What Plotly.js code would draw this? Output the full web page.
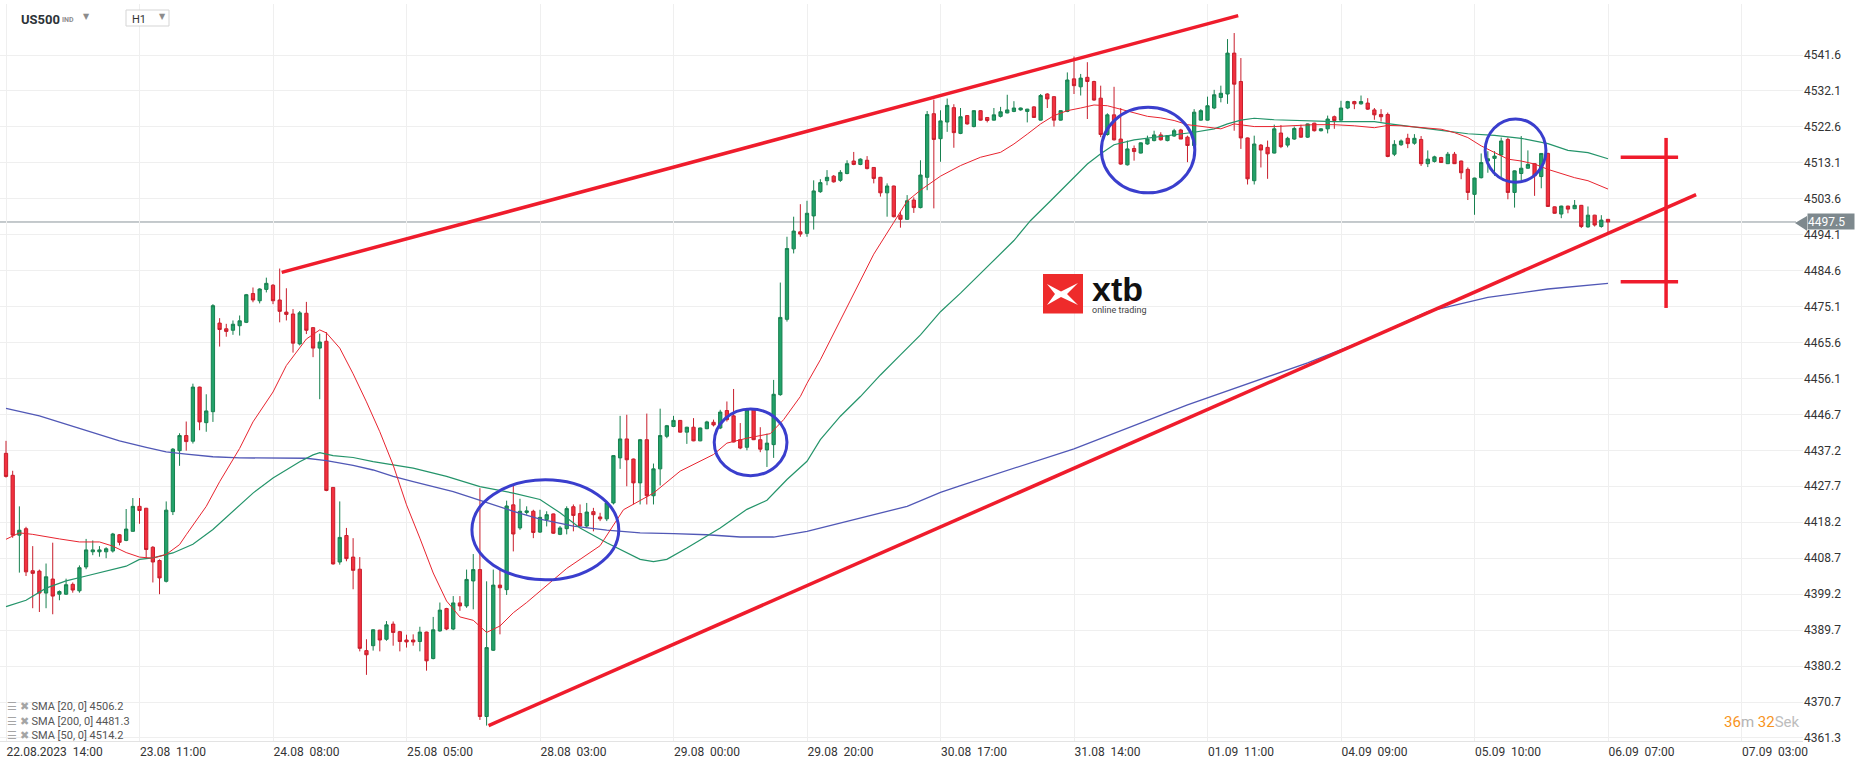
<!DOCTYPE html>
<html><head><meta charset="utf-8">
<script src="https://cdn.plot.ly/plotly-3.0.1.min.js"></script>
<style>html,body{margin:0;padding:0;background:#fff;overflow:hidden}#chart{width:1866px;height:767px}</style>
</head><body><div id="chart"></div>
<script>
// ---------- DATA ----------
const openP = [4436.4,4430.6,4414.8,4416.5,4405.4,4405.3,4399.5,4403.2,4399.2,4399.2,4401.8,4400.1,4406.4,4410.4,4410.4,4410.4,4410.6,4414.9,4413.4,4415.8,
4422.4,4421.9,4411.6,4408.1,4402.6,4421.0,4437.1,4441.1,4439.6,4453.9,4444.5,4447.4,4470.8,4469.3,4468.9,4470.1,4471.0,4478.6,4476.7,4479.7,
4480.8,4476.9,4473.7,4473.2,4465.3,4473.4,4469.6,4464.2,4466.0,4427.4,4407.7,4414.7,4409.0,4405.8,4384.3,4385.6,4389.7,4387.3,4391.3,4389.3,
4387.1,4387.1,4386.7,4389.2,4382.2,4389.5,4395.4,4390.0,4396.9,4396.1,4402.7,4405.7,4366.9,4384.4,4401.6,4400.4,4422.8,4416.7,4420.8,4421.1,
4415.6,4418.9,4420.4,4415.0,4416.5,4422.3,4420.5,4417.2,4421.0,4419.6,4419.1,4423.3,4435.2,4440.2,4434.9,4428.6,4440.0,4425.2,4432.3,4440.9,
4443.5,4445.1,4442.0,4443.3,4439.7,4442.9,4444.6,4443.1,4447.7,4446.3,4440.0,4438.0,4447.9,4440.0,4437.3,4438.7,4451.9,4471.8,4490.4,4494.9,
4494.5,4499.1,4505.5,4508.4,4509.6,4508.5,4510.3,4513.6,4512.7,4513.8,4511.9,4509.3,4505.2,4507.0,4499.3,4498.2,4503.3,4501.3,4509.3,4526.1,
4519.5,4523.9,4527.7,4520.9,4525.6,4522.7,4526.9,4525.1,4524.4,4525.4,4526.3,4526.7,4527.1,4526.7,4527.9,4524.4,4531.3,4530.6,4524.4,4526.7,
4535.3,4533.2,4535.7,4534.6,4530.2,4520.6,4525.8,4519.4,4512.6,4516.9,4515.7,4518.1,4519.0,4520.5,4519.0,4520.2,4521.8,4519.9,4517.7,4524.4,
4524.4,4527.6,4530.4,4531.3,4542.1,4534.6,4519.7,4508.4,4517.8,4517.2,4515.7,4521.0,4517.8,4519.4,4522.3,4519.9,4523.6,4521.6,4522.1,4525.3,
4524.4,4527.6,4529.3,4528.7,4528.9,4527.1,4525.9,4525.9,4515.4,4517.9,4519.6,4518.3,4519.3,4512.9,4513.5,4514.5,4512.9,4515.4,4513.6,4511.4,
4504.8,4509.2,4513.6,4514.3,4515.2,4519.3,4505.3,4510.3,4511.7,4512.9,4509.5,4515.6,4501.5,4499.6,4501.7,4501.0,4501.9,4496.2,4499.3,4496.3,
4498.2];
const highP = [4439.7,4431.8,4422.4,4417.0,4411.9,4405.7,4407.3,4412.8,4400.2,4403.3,4402.3,4406.8,4413.8,4413.4,4411.9,4411.6,4415.4,4415.1,4421.7,4424.6,
4424.6,4422.0,4411.9,4408.4,4423.7,4437.8,4441.7,4444.8,4454.8,4454.0,4452.0,4475.8,4472.1,4470.6,4471.5,4472.8,4478.5,4480.2,4480.0,4482.8,
4481.1,4485.2,4480.0,4474.5,4474.0,4476.4,4469.7,4468.0,4468.4,4427.5,4423.7,4416.7,4414.0,4409.0,4387.3,4389.9,4389.8,4392.1,4392.0,4389.5,
4388.5,4388.6,4390.6,4389.3,4393.2,4397.0,4395.6,4398.7,4398.7,4405.7,4409.8,4427.2,4402.6,4405.7,4405.7,4423.9,4427.9,4424.4,4422.4,4421.5,
4421.5,4421.1,4420.5,4417.2,4422.4,4422.9,4422.9,4423.3,4422.0,4420.7,4423.8,4435.9,4446.3,4446.6,4435.0,4440.2,4446.9,4433.7,4448.2,4443.9,
4446.3,4445.2,4443.4,4445.7,4443.2,4445.0,4445.3,4447.9,4450.1,4453.4,4444.4,4448.4,4448.1,4443.3,4441.6,4455.8,4481.5,4493.6,4498.9,4502.2,
4503.1,4508.5,4508.8,4511.2,4509.9,4511.2,4513.8,4516.0,4514.3,4514.9,4512.0,4509.4,4507.7,4507.1,4500.2,4504.6,4504.0,4513.8,4526.8,4529.8,
4527.0,4530.1,4528.6,4527.6,4525.7,4527.0,4527.0,4525.2,4527.6,4527.9,4531.1,4529.4,4527.7,4527.4,4528.1,4531.3,4531.5,4530.7,4527.0,4537.0,
4541.2,4536.6,4539.7,4534.8,4533.5,4526.2,4533.2,4527.6,4519.0,4517.7,4518.5,4520.3,4521.6,4521.2,4520.4,4522.1,4522.1,4520.3,4527.3,4527.3,
4530.6,4532.4,4533.5,4545.8,4547.4,4540.8,4519.8,4520.3,4518.1,4519.0,4523.2,4523.1,4520.0,4522.7,4523.2,4523.5,4523.7,4522.3,4525.6,4525.6,
4529.5,4529.5,4529.5,4530.9,4530.2,4527.6,4527.3,4526.4,4519.1,4519.3,4520.8,4520.7,4520.2,4516.4,4515.0,4514.7,4516.0,4516.0,4513.7,4511.9,
4509.2,4515.6,4516.2,4516.2,4519.8,4519.8,4511.1,4520.2,4516.4,4513.0,4515.7,4515.8,4501.6,4501.8,4501.8,4503.3,4502.0,4501.6,4499.4,4499.3,
4498.3];
const lowP = [4430.0,4414.1,4404.9,4404.0,4395.5,4394.5,4395.5,4393.9,4397.6,4399.0,4399.6,4399.6,4405.8,4409.5,4409.1,4408.7,4410.2,4412.1,4413.2,4415.8,
4417.8,4408.8,4402.3,4399.2,4402.3,4420.1,4433.1,4437.1,4439.0,4442.5,4442.1,4444.7,4464.6,4467.2,4467.7,4467.5,4470.8,4476.3,4476.0,4478.9,
4475.8,4471.0,4471.5,4463.0,4464.9,4467.9,4461.8,4450.7,4426.4,4407.0,4407.0,4407.9,4400.5,4384.1,4377.9,4384.3,4384.1,4386.9,4385.6,4384.1,
4385.1,4385.6,4384.1,4379.0,4382.0,4389.3,4389.7,4389.7,4394.8,4395.6,4395.2,4366.0,4364.5,4384.2,4388.6,4399.0,4410.5,4416.2,4420.2,4414.0,
4415.4,4417.1,4415.1,4414.8,4415.0,4415.8,4417.0,4416.7,4415.8,4418.5,4418.5,4422.9,4432.3,4427.7,4422.9,4422.9,4422.9,4422.9,4427.9,4440.4,
4443.3,4441.9,4438.9,4439.6,4439.6,4442.8,4443.5,4442.8,4444.8,4439.3,4437.5,4437.2,4439.9,4436.7,4432.8,4435.2,4451.6,4471.2,4489.2,4493.6,
4493.6,4495.5,4505.2,4507.2,4507.9,4508.1,4510.1,4512.5,4512.5,4511.4,4507.7,4504.2,4498.9,4498.7,4496.0,4498.1,4499.9,4501.1,4505.9,4501.1,
4513.4,4521.3,4517.1,4520.7,4523.2,4522.5,4524.3,4523.8,4524.3,4525.1,4526.2,4526.5,4526.9,4523.8,4525.0,4524.3,4527.6,4522.7,4524.3,4526.5,
4531.3,4530.9,4524.7,4529.5,4519.9,4520.3,4519.0,4512.6,4512.4,4513.7,4515.6,4517.9,4518.8,4519.0,4518.8,4520.0,4519.4,4513.3,4517.4,4524.3,
4524.3,4527.3,4529.1,4528.7,4521.6,4516.8,4507.4,4507.4,4511.9,4508.9,4515.6,4517.0,4517.2,4519.2,4519.7,4519.7,4521.4,4521.4,4520.9,4522.1,
4524.3,4527.3,4527.3,4528.5,4527.1,4524.5,4524.0,4514.6,4514.9,4517.6,4517.0,4517.9,4512.3,4512.0,4513.2,4513.2,4512.8,4512.8,4508.8,4503.3,
4499.4,4509.0,4510.5,4509.7,4509.2,4503.5,4501.3,4508.4,4511.6,4504.4,4506.4,4501.5,4499.7,4498.5,4499.8,4500.9,4495.9,4496.0,4496.3,4496.0,
4494.7];
const closeP = [4430.3,4414.8,4416.1,4405.1,4404.7,4399.5,4403.8,4398.7,4399.9,4401.7,4400.3,4406.2,4410.9,4410.9,4410.9,4411.2,4415.1,4412.9,4416.4,4422.4,
4421.3,4411.0,4407.7,4403.5,4421.4,4437.5,4441.1,4439.5,4453.9,4444.7,4447.6,4475.4,4469.1,4468.6,4470.5,4471.4,4478.3,4476.9,4479.8,4481.3,
4476.7,4473.9,4473.1,4465.5,4473.5,4468.9,4464.2,4465.8,4426.6,4407.2,4414.2,4408.6,4405.5,4384.9,4383.2,4389.8,4387.1,4391.1,4389.1,4386.7,
4386.6,4386.6,4389.2,4381.6,4389.8,4395.0,4390.0,4396.9,4396.1,4403.1,4405.7,4366.9,4385.1,4401.6,4400.9,4422.5,4415.1,4421.1,4421.2,4415.5,
4419.5,4420.2,4415.3,4416.7,4421.8,4420.0,4417.2,4420.9,4420.2,4419.1,4423.3,4435.8,4440.2,4434.7,4428.6,4440.0,4425.2,4432.3,4441.1,4443.7,
4445.1,4442.0,4443.3,4439.7,4443.1,4444.7,4443.9,4447.3,4445.3,4439.4,4437.8,4447.9,4440.0,4437.5,4439.1,4452.0,4472.3,4490.5,4495.1,4494.3,
4499.8,4505.7,4507.9,4509.3,4508.1,4510.6,4512.9,4512.7,4514.1,4511.6,4509.0,4505.2,4507.0,4498.9,4498.2,4503.1,4501.3,4509.9,4525.9,4519.3,
4524.2,4528.3,4521.1,4525.3,4523.4,4526.9,4524.4,4524.3,4525.8,4526.6,4527.1,4527.6,4527.6,4527.3,4525.1,4530.9,4530.0,4524.4,4526.9,4535.0,
4533.5,4535.5,4534.6,4529.7,4520.6,4525.8,4519.2,4512.8,4516.8,4516.1,4518.4,4519.4,4520.5,4519.2,4520.3,4521.6,4519.4,4517.7,4526.5,4526.9,
4528.2,4531.1,4531.5,4542.1,4533.9,4519.7,4508.9,4518.1,4516.5,4515.5,4522.1,4517.4,4519.6,4522.2,4519.9,4523.4,4521.6,4522.1,4524.7,4524.3,
4527.6,4529.3,4528.7,4529.3,4527.3,4525.8,4525.3,4514.8,4518.0,4518.9,4518.2,4519.6,4512.9,4514.1,4514.7,4513.2,4515.4,4512.9,4510.5,4505.3,
4509.1,4513.2,4514.2,4514.9,4518.9,4505.3,4511.0,4511.7,4512.7,4509.7,4515.6,4501.6,4499.8,4501.7,4500.9,4501.9,4496.3,4499.3,4496.7,4498.0,
4497.5];

const xTickLabels = ["22.08.2023  14:00","23.08  11:00","24.08  08:00","25.08  05:00","28.08  03:00","29.08  00:00","29.08  20:00",
"30.08  17:00","31.08  14:00","01.09  11:00","04.09  09:00","05.09  10:00","06.09  07:00","07.09  03:00"];
const yTickValues = [4361.3,4370.7,4380.2,4389.7,4399.2,4408.7,4418.2,4427.7,4437.2,4446.7,4456.1,4465.6,4475.1,4484.6,4494.1,4503.6,4513.1,4522.6,4532.1,4541.6];

const sma20Bar = [0,2,4,6,8,11,14,16,18,20,22,24,26,27,30,32,35,37,40,42,45,47,48,50,52,54,56,58,60,62,64,66,68,70,72,74,76,78,80,82,84,86,89,92.5,97,101,106,108,111,114.5,116.5,119,120,122,124,126,128,130,133,135,137,140,143,146,149,151,153,155,157,159,161,163,165,167,169,171,173,175,177,179,182,184,187,190,193,196,199,202,205,207,209,211,213,215,217,219,221,223,225,227,229,231,233,235,237,240];
const sma20Val = [4413.7,4415.4,4415.0,4414.5,4413.8,4413.0,4413.0,4411.9,4410.2,4409.0,4408.7,4409.7,4412.3,4414.9,4422.4,4428.9,4437.7,4444.7,4452.6,4459.6,4466.6,4469.0,4468.2,4464.2,4457.4,4450.0,4442.1,4433.3,4422.8,4414.0,4404.8,4397.4,4393.2,4392.3,4389.1,4390.8,4394.3,4397.0,4400.0,4403.1,4406.0,4408.4,4412.0,4421.5,4425.9,4431.7,4436.1,4439.1,4440.4,4441.6,4445.3,4451.4,4454.9,4461.1,4468.1,4475.1,4482.2,4489.0,4497.4,4503.0,4505.9,4509.6,4512.4,4514.6,4515.9,4518.1,4520.7,4523.4,4525.6,4526.9,4527.6,4528.4,4528.2,4527.3,4526.5,4525.4,4525.0,4524.3,4523.2,4522.7,4522.1,4523.4,4522.7,4522.7,4522.9,4523.2,4523.2,4522.9,4522.4,4523.0,4522.9,4522.6,4522.4,4522.0,4521.1,4519.8,4517.6,4515.8,4514.1,4513.6,4512.8,4511.4,4510.3,4509.2,4508.4,4506.2];

const sma50Bar = [0,3,6,9,12,15,18,20,22,25,28,31,34,37,40,44,46,47,49,52,55,61,66,71,76,80,83,86,90,95,97,99,102,107,111,114,117,120,122,125,128,131,134,137,140,143,151,153.5,156.5,159,162,164,166,169,172,175,178,181,183,185,187,190,193,196,199,202,205,207,211,215,219,223,227,231,234,237,240];
const sma50Val = [4395.9,4397.6,4400.8,4402.7,4404.0,4405.3,4406.6,4408.4,4408.8,4410.1,4412.4,4416.3,4421.1,4425.9,4429.9,4434.2,4436.0,4436.6,4435.8,4435.3,4434.2,4432.5,4430.3,4427.6,4425.9,4424.2,4420.7,4416.7,4412.8,4408.4,4407.8,4408.4,4411.4,4416.7,4421.6,4424.0,4429.5,4434.3,4440.0,4446.2,4451.4,4457.1,4462.4,4467.7,4473.8,4478.7,4492.6,4497.9,4503.1,4507.5,4512.8,4515.5,4517.9,4519.2,4519.9,4520.6,4521.2,4522.1,4523.4,4524.4,4524.9,4524.5,4524.3,4524.1,4524.0,4524.0,4524.0,4523.5,4522.7,4521.7,4520.8,4520.4,4519.6,4518.2,4516.4,4515.8,4514.2];

const sma200Bar = [0,5,11,17,21,24,27,31,35,40,45,48,52,55,58,61,64,67,70,73,76,80,85,90,95,100,105,110,115,120,125,130,135,140,143,160,177,195,204,213,222,231,240];
const sma200Val = [4448.3,4446.3,4443.0,4439.7,4438.0,4436.8,4436.2,4435.5,4435.2,4435.2,4435.1,4434.5,4433.2,4432.0,4430.3,4428.9,4427.6,4426.3,4424.6,4422.8,4421.1,4419.0,4417.2,4416.1,4415.4,4415.2,4414.9,4414.3,4414.3,4415.8,4418.0,4420.2,4422.4,4426.1,4427.9,4437.6,4449.2,4460.3,4466.6,4473.8,4477.6,4479.8,4481.3];

const currentPrice = 4497.5;
// trend lines drawn on the picture: [bar, price]
const upperTrend = [[41.3,4484.2],[184.6,4552.0]];
const lowerTrend = [[72.3,4364.5],[253.2,4504.7]];
// range marker
const markerBar = 248.7, markerTop = 4519.7, markerBottom = 4474.8;
const markerTicks = [4514.6, 4481.7], markerTickBars = [241.9, 250.5];
// blue ellipses: [bar0, bar1, priceLow, priceHigh]
const ellipses = [[69.8,91.8,4403.0,4429.4],[106.1,117.0,4430.5,4448.1],[164.1,178.1,4505.2,4527.8],[221.6,230.7,4508.0,4524.7]];
const countdown = ["36","m ","32","Sek"];

// ---------- CHART ----------
const W = 1866, H = 767, ML = 0, MR = 63, MT = 4, MB = 26;
const PW = W - ML - MR, PH = H - MT - MB;
const px = v => (v - ML) / PW;            // pixel -> paper x
const py = v => (H - MB - v) / PH;        // pixel -> paper y

const bars = openP.map((_, i) => i);
const tickVals = xTickLabels.map((_, i) => i * 20);

const traces = [
  {type:'candlestick', x:bars, open:openP, high:highP, low:lowP, close:closeP,
   increasing:{line:{color:'#17804f', width:1}, fillcolor:'#23a26a'},
   decreasing:{line:{color:'#c81e2c', width:1}, fillcolor:'#f2313f'},
   whiskerwidth:0, hoverinfo:'skip', showlegend:false},
  {type:'scatter', mode:'lines', x:sma200Bar, y:sma200Val, line:{color:'#5158b6', width:1.3}, hoverinfo:'skip', showlegend:false},
  {type:'scatter', mode:'lines', x:sma50Bar, y:sma50Val, line:{color:'#24946a', width:1.2}, hoverinfo:'skip', showlegend:false},
  {type:'scatter', mode:'lines', x:sma20Bar, y:sma20Val, line:{color:'#e8242f', width:1}, hoverinfo:'skip', showlegend:false}
];

const RED = '#ef1c2c', BLUE = '#3a3ecd';
const shapes = [
  {type:'line', xref:'paper', yref:'y', x0:0, x1:px(1796), y0:currentPrice, y1:currentPrice, line:{color:'#8a959a', width:1}, layer:'below'},
  {type:'line', xref:'x', yref:'y', x0:upperTrend[0][0], y0:upperTrend[0][1], x1:upperTrend[1][0], y1:upperTrend[1][1], line:{color:RED, width:3.5}},
  {type:'line', xref:'x', yref:'y', x0:lowerTrend[0][0], y0:lowerTrend[0][1], x1:lowerTrend[1][0], y1:lowerTrend[1][1], line:{color:RED, width:3.5}},
  {type:'line', xref:'x', yref:'y', x0:markerBar, x1:markerBar, y0:markerBottom, y1:markerTop, line:{color:RED, width:3.5}},
  ...markerTicks.map(t => ({type:'line', xref:'x', yref:'y', x0:markerTickBars[0], x1:markerTickBars[1], y0:t, y1:t, line:{color:RED, width:3.5}})),
  ...ellipses.map(e => ({type:'circle', xref:'x', yref:'y', x0:e[0], x1:e[1], y0:e[2], y1:e[3], line:{color:BLUE, width:3}})),
  // price tag arrow
  {type:'path', xref:'paper', yref:'paper',
   path:`M ${px(1795)},${py(223)} L ${px(1807)},${py(216)} L ${px(1807)},${py(230.7)} Z`, fillcolor:'#7e898e', line:{width:0}},
  // H1 box
  {type:'rect', xref:'paper', yref:'paper', x0:px(126), x1:px(169), y0:py(26), y1:py(10), line:{color:'#d5d5d5', width:1}, fillcolor:'#fff'},
  // xtb logo square
  {type:'rect', xref:'paper', yref:'paper', x0:px(1043), x1:px(1083), y0:py(313.5), y1:py(274), line:{width:0}, fillcolor:'#ee2b2b', layer:'above'},
  {type:'path', xref:'paper', yref:'paper', line:{width:0}, fillcolor:'#ffffff',
   path:(()=>{const p=[[1047,284],[1061,291.5],[1078,283],[1067,294],[1078,305],[1061,297],[1047,305],[1055,294]];
     return 'M '+p.map(q=>px(q[0])+','+py(q[1])).join(' L ')+' Z';})()}
];

const fontR = 'Roboto, "Open Sans", sans-serif';
const annotations = [
  {xref:'paper', yref:'y', x:px(1807), y:currentPrice, xanchor:'left', yanchor:'middle', text:currentPrice.toFixed(1),
   showarrow:false, bgcolor:'#7e898e', font:{family:fontR, size:12, color:'#ffffff'}, width:46, height:15, borderpad:0, align:'left'},
  {xref:'paper', yref:'paper', x:px(19), y:py(19), xanchor:'left', yanchor:'middle', showarrow:false,
   text:'<b>US500</b>', font:{family:fontR, size:13, color:'#2d3338'}},
  {xref:'paper', yref:'paper', x:px(59.5), y:py(20), xanchor:'left', yanchor:'middle', showarrow:false,
   text:'<b>IND</b>', font:{family:fontR, size:7, color:'#8e8e8e'}},
  {xref:'paper', yref:'paper', x:px(81), y:py(16), xanchor:'left', yanchor:'middle', showarrow:false,
   text:'▼', font:{family:'DejaVu Sans', size:8, color:'#8c8c8c'}},
  {xref:'paper', yref:'paper', x:px(130), y:py(19), xanchor:'left', yanchor:'middle', showarrow:false,
   text:'H1', font:{family:fontR, size:11, color:'#333'}},
  {xref:'paper', yref:'paper', x:px(157), y:py(16), xanchor:'left', yanchor:'middle', showarrow:false,
   text:'▼', font:{family:'DejaVu Sans', size:8, color:'#8c8c8c'}},
  {xref:'paper', yref:'paper', x:px(1090), y:py(289), xanchor:'left', yanchor:'middle', showarrow:false,
   text:'<b>xtb</b>', font:{family:'"Liberation Sans", Arial, sans-serif', size:34, color:'#111'}},
  {xref:'paper', yref:'paper', x:px(1090), y:py(310), xanchor:'left', yanchor:'middle', showarrow:false,
   text:'online trading', font:{family:fontR, size:9, color:'#444'}},
  {xref:'paper', yref:'paper', x:px(1722), y:py(722), xanchor:'left', yanchor:'middle', showarrow:false,
   text:`<span style="color:#f7941d">${countdown[0]}</span><span style="color:#b3b3b3">${countdown[1]}</span><span style="color:#f7941d">${countdown[2]}</span><span style="color:#bdbdbd">${countdown[3]}</span>`,
   font:{family:fontR, size:15}}
];
const legendRows = [['SMA [20, 0]', sma20Val], ['SMA [200, 0]', sma200Val], ['SMA [50, 0]', sma50Val]];
const legendY = [706, 721.5, 735.5];
legendRows.forEach((r, i) => annotations.push({xref:'paper', yref:'paper', x:px(5), y:py(legendY[i]), xanchor:'left', yanchor:'middle', showarrow:false,
  text:`<span style="color:#a5a5a5">☰ ✖</span> ${r[0]} ${r[1][r[1].length-1].toFixed(1)}`, font:{family:fontR, size:11, color:'#555'}}));

const layout = {
  width:W, height:H, margin:{l:ML, r:MR, t:MT, b:MB, pad:0},
  paper_bgcolor:'#ffffff', plot_bgcolor:'#ffffff', showlegend:false, dragmode:false,
  xaxis:{range:[-0.9, (PW - 6) / 6.675], tickvals:tickVals, ticktext:xTickLabels.map(s => s.replace(/ /g, '\u00a0')),
    ticklabelposition:'outside right', showgrid:true, gridcolor:'#efefef', gridwidth:1, zeroline:false,
    showline:true, linecolor:'#e3e3e3', linewidth:1, ticks:'', tickfont:{family:fontR, size:12, color:'#333'},
    rangeslider:{visible:false}, fixedrange:true},
  yaxis:{range:[4360.43, 4555.07], tickvals:yTickValues, ticktext:yTickValues.map(v => v.toFixed(1)), side:'right',
    showgrid:true, gridcolor:'#efefef', gridwidth:1, zeroline:false, showline:false, ticks:'',
    tickfont:{family:fontR, size:12, color:'#333'}, fixedrange:true},
  shapes:shapes, annotations:annotations
};
Plotly.newPlot('chart', traces, layout, {staticPlot:true, displayModeBar:false});
</script></body></html>
